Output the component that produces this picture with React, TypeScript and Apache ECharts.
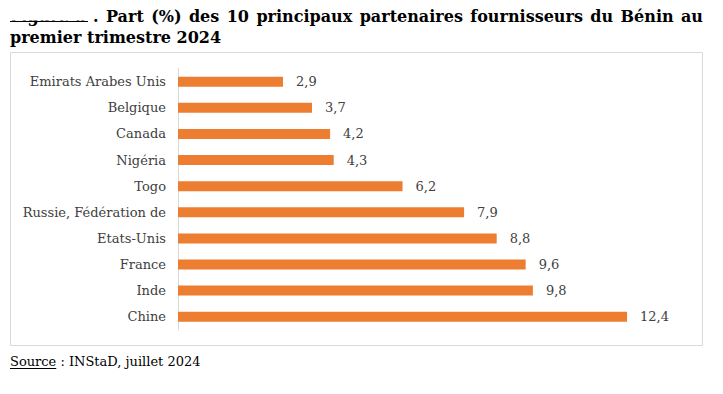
import React, { useEffect, useRef } from "react";
import * as echarts from "echarts";

const categories = [
  "Emirats Arabes Unis",
  "Belgique",
  "Canada",
  "Nigéria",
  "Togo",
  "Russie, Fédération de",
  "Etats-Unis",
  "France",
  "Inde",
  "Chine",
];
const values = [2.9, 3.7, 4.2, 4.3, 6.2, 7.9, 8.8, 9.6, 9.8, 12.4];

const figureLabel = "Figure 6";
const titleLine1Words = [".", "Part", "(%)", "des", "10", "principaux", "partenaires", "fournisseurs", "du", "Bénin", "au"];
const titleLine2 = "premier trimestre 2024";
const sourceLabel = "Source";
const sourceText = " : INStaD, juillet 2024";

const SERIF = "'DejaVu Serif', 'Liberation Serif', serif";
const TITLE_FONT = `bold 16px ${SERIF}`;
const SOURCE_FONT = `13px ${SERIF}`;

function measure(text: string, font: string): number {
  const c = document.createElement("canvas").getContext("2d")!;
  c.font = font;
  return c.measureText(text).width;
}

export default function App() {
  const ref = useRef<HTMLDivElement>(null);
  useEffect(() => {
    if (!ref.current) return;
    const chart = echarts.init(ref.current, null, { renderer: "svg" });

    const startX = 93;
    const endX = 703;
    const widths = titleLine1Words.map((w) => measure(w, TITLE_FONT));
    const total = widths.reduce((a, b) => a + b, 0);
    const gap = (endX - startX - total) / (titleLine1Words.length - 1);
    let cx = startX;
    const wordGraphics = titleLine1Words.map((w, i) => {
      const g = {
        type: "text",
        x: cx,
        y: 16,
        style: { text: w, font: TITLE_FONT, fill: "#000", textVerticalAlign: "middle" },
      };
      cx += widths[i] + gap;
      return g;
    });

    const srcW = measure(sourceLabel, SOURCE_FONT);

    chart.setOption({
      animation: false,
      backgroundColor: "#ffffff",
      grid: { left: 178, top: 68.6, bottom: 64.2, right: 38, containLabel: false },
      xAxis: { type: "value", min: 0, max: 14, show: false },
      yAxis: {
        type: "category",
        data: categories,
        inverse: true,
        axisLine: { show: true, lineStyle: { color: "#d9d9d9", width: 1 } },
        axisTick: { show: false },
        axisLabel: { margin: 12, color: "#404040", fontFamily: SERIF, fontSize: 13 },
        splitLine: { show: false },
      },
      series: [
        {
          type: "bar",
          data: values,
          barWidth: 10,
          itemStyle: { color: "#ED7D31" },
          label: {
            show: true,
            position: "right",
            distance: 13,
            color: "#404040",
            fontFamily: SERIF,
            fontSize: 13,
            formatter: (p: any) => String(p.value).replace(".", ","),
          },
        },
      ],
      graphic: [
        {
          type: "rect",
          shape: { x: 10.5, y: 52.5, width: 692, height: 293 },
          style: { fill: "none", stroke: "#d9d9d9", lineWidth: 1 },
          silent: true,
          z: -1,
        },
        {
          type: "text",
          x: 10,
          y: 16,
          z: 1,
          style: { text: figureLabel, font: TITLE_FONT, fill: "#000", textVerticalAlign: "middle" },
        },
        {
          type: "rect",
          z: 2,
          shape: { x: 8, y: 0, width: 82, height: 20.5 },
          style: { fill: "#fff" },
        },
        {
          type: "line",
          z: 3,
          shape: { x1: 10, y1: 21.5, x2: 88, y2: 21.5 },
          style: { stroke: "#000", lineWidth: 1 },
        },
        ...wordGraphics,
        {
          type: "text",
          x: 10,
          y: 37,
          style: { text: titleLine2, font: TITLE_FONT, fill: "#000", textVerticalAlign: "middle" },
        },
        {
          type: "text",
          x: 10,
          y: 361,
          style: { text: sourceLabel, font: SOURCE_FONT, fill: "#000", textVerticalAlign: "middle" },
        },
        {
          type: "line",
          shape: { x1: 10, y1: 368.5, x2: 10 + srcW, y2: 368.5 },
          style: { stroke: "#000", lineWidth: 1 },
        },
        {
          type: "text",
          x: 10 + srcW,
          y: 361,
          style: { text: sourceText, font: SOURCE_FONT, fill: "#000", textVerticalAlign: "middle" },
        },
      ],
    });
    return () => chart.dispose();
  }, []);
  return (
    <div ref={ref} style={{ position: "fixed", left: 0, top: 0, width: 723, height: 394 }} />
  );
}
